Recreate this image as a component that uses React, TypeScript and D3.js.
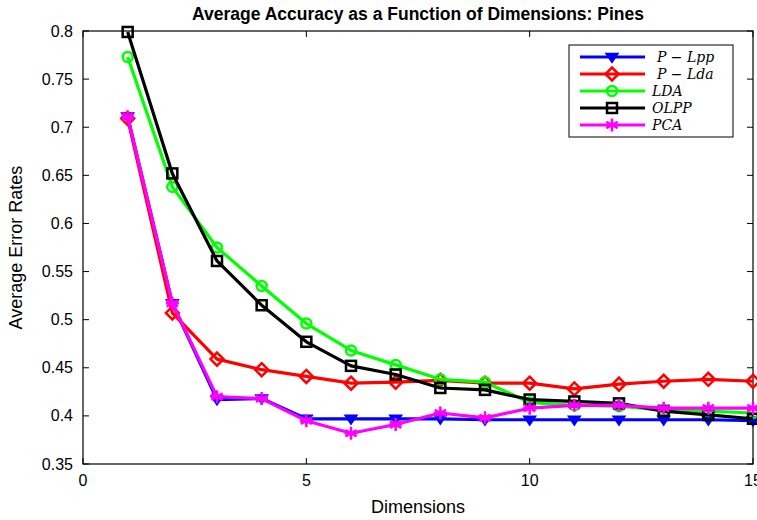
import React from "react";
import * as d3 from "d3";

const dims = [1, 2, 3, 4, 5, 6, 7, 8, 9, 10, 11, 12, 13, 14, 15];
const pLpp = [0.711, 0.517, 0.417, 0.418, 0.397, 0.397, 0.397, 0.397, 0.396, 0.396, 0.396, 0.396, 0.396, 0.396, 0.395];
const pLda = [0.709, 0.507, 0.459, 0.448, 0.441, 0.434, 0.435, 0.437, 0.434, 0.434, 0.428, 0.433, 0.436, 0.438, 0.436];
const lda = [0.773, 0.638, 0.575, 0.535, 0.496, 0.468, 0.453, 0.438, 0.435, 0.414, 0.411, 0.410, 0.406, 0.405, 0.403];
const olpp = [0.799, 0.652, 0.561, 0.515, 0.477, 0.452, 0.443, 0.429, 0.427, 0.417, 0.415, 0.413, 0.405, 0.401, 0.397];
const pca = [0.711, 0.517, 0.420, 0.418, 0.395, 0.382, 0.391, 0.403, 0.398, 0.408, 0.411, 0.411, 0.408, 0.408, 0.408];

const xTicks = [0, 5, 10, 15];
const yTicks = [0.35, 0.4, 0.45, 0.5, 0.55, 0.6, 0.65, 0.7, 0.75, 0.8];

const series = [
  { name: "P", sub: "Lpp", values: pLpp, color: "#0000ff", marker: "tri" },
  { name: "P", sub: "Lda", values: pLda, color: "#ff0000", marker: "diamond" },
  { name: "LDA", sub: "", values: lda, color: "#00ff00", marker: "circle" },
  { name: "OLPP", sub: "", values: olpp, color: "#000000", marker: "square" },
  { name: "PCA", sub: "", values: pca, color: "#ff00ff", marker: "star" },
];

const W = 757, H = 520;
const L = 83, R = 753, T = 31, B = 464;

function Marker({ type, color, x, y }: { type: string; color: string; x: number; y: number }) {
  const sw = 2.5;
  if (type === "tri") {
    const s = 6;
    return <path d={`M${x - s},${y - s * 0.6} L${x + s},${y - s * 0.6} L${x},${y + s * 0.9} Z`} fill={color} stroke={color} strokeWidth={1.5} />;
  }
  if (type === "diamond") {
    const s = 6.5;
    return <path d={`M${x},${y - s} L${x + s},${y} L${x},${y + s} L${x - s},${y} Z`} fill="none" stroke={color} strokeWidth={sw} />;
  }
  if (type === "circle") {
    return <circle cx={x} cy={y} r={5} fill="none" stroke={color} strokeWidth={sw} />;
  }
  if (type === "square") {
    const s = 5;
    return <rect x={x - s} y={y - s} width={2 * s} height={2 * s} fill="none" stroke={color} strokeWidth={sw} />;
  }
  const s = 6.5;
  const lines = [0, 60, 120].map((a) => {
    const r = (a * Math.PI) / 180;
    return `M${x - s * Math.sin(r)},${y - s * Math.cos(r)} L${x + s * Math.sin(r)},${y + s * Math.cos(r)}`;
  });
  lines.push(`M${x - s},${y} L${x + s},${y}`);
  return <path d={lines.join(" ")} stroke={color} strokeWidth={2.5} fill="none" />;
}

export default function App() {
  const x = d3.scaleLinear().domain([0, 15]).range([L, R]);
  const y = d3.scaleLinear().domain([0.35, 0.8]).range([B, T]);
  const line = d3.line<number>().x((_, i) => x(dims[i])).y((d) => y(d));
  const font = "'Liberation Sans', Arial, sans-serif";
  const lx0 = 580, lx1 = 645, lmx = 612, ly0 = 57, ldy = 17;
  return (
    <svg width={W} height={H} style={{ position: "absolute", left: 0, top: 0, background: "#fff" }}>
      <rect x={0} y={0} width={W} height={H} fill="#fff" />
      <text x={418} y={20} textAnchor="middle" fontFamily={font} fontWeight="bold" fontSize={17.5}>
        Average Accuracy as a Function of Dimensions: Pines
      </text>
      {/* axes box */}
      <rect x={L} y={T} width={R - L} height={B - T} fill="none" stroke="#000" strokeWidth={1.2} />
      {xTicks.map((t) => (
        <g key={"x" + t}>
          <line x1={x(t)} x2={x(t)} y1={B} y2={B - 6} stroke="#000" />
          <line x1={x(t)} x2={x(t)} y1={T} y2={T + 6} stroke="#000" />
          <text x={x(t)} y={B + 22} textAnchor="middle" fontFamily={font} fontSize={16}>{t}</text>
        </g>
      ))}
      {yTicks.map((t) => (
        <g key={"y" + t}>
          <line x1={L} x2={L + 6} y1={y(t)} y2={y(t)} stroke="#000" />
          <line x1={R} x2={R - 6} y1={y(t)} y2={y(t)} stroke="#000" />
          <text x={L - 10} y={y(t) + 5.5} textAnchor="end" fontFamily={font} fontSize={16}>{String(t)}</text>
        </g>
      ))}
      <text x={418} y={513} textAnchor="middle" fontFamily={font} fontSize={18}>Dimensions</text>
      <text transform={`translate(22,${(T + B) / 2}) rotate(-90)`} textAnchor="middle" fontFamily={font} fontSize={18}>
        Average Error Rates
      </text>
      {series.map((s) => (
        <g key={s.name + s.sub}>
          <path d={line(s.values) || ""} fill="none" stroke={s.color} strokeWidth={3.2} strokeLinejoin="round" />
          {s.values.map((v, i) => (
            <Marker key={i} type={s.marker} color={s.color} x={x(dims[i])} y={y(v)} />
          ))}
        </g>
      ))}
      {/* legend */}
      <rect x={569} y={45} width={164} height={92} fill="#fff" stroke="#000" strokeWidth={1} />
      {series.map((s, i) => {
        const ly = ly0 + i * ldy;
        return (
          <g key={"l" + i}>
            <line x1={lx0} x2={lx1} y1={ly} y2={ly} stroke={s.color} strokeWidth={3.2} />
            <Marker type={s.marker} color={s.color} x={lmx} y={ly} />
            {s.sub ? (
              <text x={657} y={ly + 5} fontFamily="'DejaVu Serif', 'Liberation Serif', serif" fontStyle="italic" fontSize={14}>
                {s.name} − {s.sub}
              </text>
            ) : (
              <text x={652} y={ly + 5} fontFamily="'DejaVu Serif', 'Liberation Serif', serif" fontStyle="italic" fontSize={14}>
                {s.name}
              </text>
            )}
          </g>
        );
      })}
    </svg>
  );
}
